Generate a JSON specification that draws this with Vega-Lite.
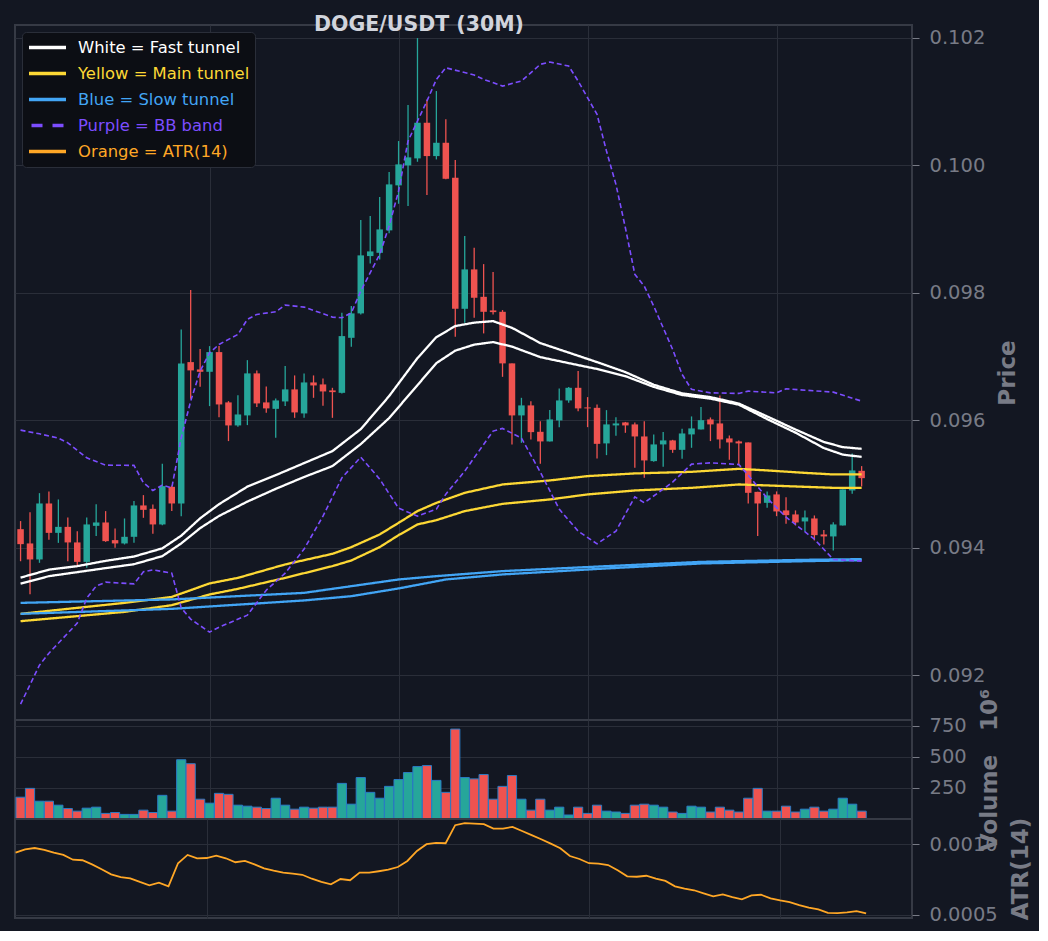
{
  "$schema": "https://vega.github.io/schema/vega-lite/v6.json",
  "background": "#131722",
  "padding": {"left": 14, "top": 14, "right": 5, "bottom": 5},
  "title": {
    "text": "DOGE/USDT (30M)",
    "anchor": "start",
    "frame": "group",
    "dx": 299,
    "offset": -11,
    "font": "DejaVu Sans",
    "fontSize": 20.5,
    "fontWeight": "bold",
    "color": "#d1d4dc"
  },
  "datasets": {
    "candles": [
      {"i": 0, "o": 0.094293, "h": 0.09442, "l": 0.09379, "c": 0.094058, "vol": 175, "atr": 0.000941},
      {"i": 1, "o": 0.094069, "h": 0.09456, "l": 0.093274, "c": 0.093818, "vol": 246, "atr": 0.000965},
      {"i": 2, "o": 0.093818, "h": 0.094858, "l": 0.093765, "c": 0.094696, "vol": 143, "atr": 0.000974},
      {"i": 3, "o": 0.094696, "h": 0.094885, "l": 0.094125, "c": 0.094235, "vol": 143, "atr": 0.00096},
      {"i": 4, "o": 0.094235, "h": 0.094759, "l": 0.094078, "c": 0.094329, "vol": 111, "atr": 0.000941},
      {"i": 5, "o": 0.094329, "h": 0.094477, "l": 0.093791, "c": 0.094085, "vol": 84, "atr": 0.000925},
      {"i": 6, "o": 0.094085, "h": 0.094262, "l": 0.093713, "c": 0.09378, "vol": 63, "atr": 0.000891},
      {"i": 7, "o": 0.09378, "h": 0.094477, "l": 0.093686, "c": 0.094367, "vol": 87, "atr": 0.000887},
      {"i": 8, "o": 0.094345, "h": 0.094685, "l": 0.094184, "c": 0.094398, "vol": 95, "atr": 0.000858},
      {"i": 9, "o": 0.094398, "h": 0.094576, "l": 0.094094, "c": 0.094105, "vol": 45, "atr": 0.000823},
      {"i": 10, "o": 0.094121, "h": 0.094304, "l": 0.094, "c": 0.094069, "vol": 52, "atr": 0.000787},
      {"i": 11, "o": 0.094069, "h": 0.094461, "l": 0.094053, "c": 0.094173, "vol": 37, "atr": 0.000768},
      {"i": 12, "o": 0.094173, "h": 0.094733, "l": 0.094078, "c": 0.094665, "vol": 37, "atr": 0.000759},
      {"i": 13, "o": 0.094665, "h": 0.094827, "l": 0.094471, "c": 0.094596, "vol": 71, "atr": 0.000733},
      {"i": 14, "o": 0.094612, "h": 0.094681, "l": 0.09422, "c": 0.094367, "vol": 52, "atr": 0.000709},
      {"i": 15, "o": 0.094367, "h": 0.095318, "l": 0.094356, "c": 0.094968, "vol": 190, "atr": 0.000728},
      {"i": 16, "o": 0.094957, "h": 0.094973, "l": 0.094576, "c": 0.094696, "vol": 63, "atr": 0.000702},
      {"i": 17, "o": 0.094696, "h": 0.097426, "l": 0.094497, "c": 0.096893, "vol": 476, "atr": 0.000866},
      {"i": 18, "o": 0.096913, "h": 0.098042, "l": 0.096337, "c": 0.096783, "vol": 444, "atr": 0.000925},
      {"i": 19, "o": 0.096798, "h": 0.097117, "l": 0.096525, "c": 0.096761, "vol": 159, "atr": 0.000901},
      {"i": 20, "o": 0.096761, "h": 0.097164, "l": 0.096223, "c": 0.09707, "vol": 127, "atr": 0.000903},
      {"i": 21, "o": 0.09707, "h": 0.097164, "l": 0.09605, "c": 0.096249, "vol": 206, "atr": 0.00092},
      {"i": 22, "o": 0.096281, "h": 0.096301, "l": 0.095674, "c": 0.09592, "vol": 198, "atr": 0.000901},
      {"i": 23, "o": 0.09592, "h": 0.096395, "l": 0.095898, "c": 0.096092, "vol": 111, "atr": 0.000873},
      {"i": 24, "o": 0.096077, "h": 0.096944, "l": 0.095925, "c": 0.096736, "vol": 103, "atr": 0.000882},
      {"i": 25, "o": 0.096736, "h": 0.096783, "l": 0.096207, "c": 0.096265, "vol": 95, "atr": 0.000858},
      {"i": 26, "o": 0.096281, "h": 0.096532, "l": 0.096118, "c": 0.096187, "vol": 84, "atr": 0.00083},
      {"i": 27, "o": 0.09618, "h": 0.096344, "l": 0.095725, "c": 0.096312, "vol": 167, "atr": 0.000813},
      {"i": 28, "o": 0.096296, "h": 0.09685, "l": 0.096223, "c": 0.096485, "vol": 111, "atr": 0.000799},
      {"i": 29, "o": 0.096485, "h": 0.096704, "l": 0.096039, "c": 0.096124, "vol": 79, "atr": 0.000792},
      {"i": 30, "o": 0.096108, "h": 0.096736, "l": 0.096039, "c": 0.096594, "vol": 95, "atr": 0.000784},
      {"i": 31, "o": 0.096594, "h": 0.096704, "l": 0.096353, "c": 0.096547, "vol": 87, "atr": 0.000756},
      {"i": 32, "o": 0.096563, "h": 0.096657, "l": 0.096227, "c": 0.096453, "vol": 95, "atr": 0.000733},
      {"i": 33, "o": 0.096469, "h": 0.09651, "l": 0.096039, "c": 0.096442, "vol": 95, "atr": 0.000716},
      {"i": 34, "o": 0.096431, "h": 0.097686, "l": 0.09642, "c": 0.097321, "vol": 286, "atr": 0.000754},
      {"i": 35, "o": 0.097294, "h": 0.097791, "l": 0.097153, "c": 0.097677, "vol": 119, "atr": 0.000745},
      {"i": 36, "o": 0.097677, "h": 0.09914, "l": 0.097661, "c": 0.098587, "vol": 333, "atr": 0.000799},
      {"i": 37, "o": 0.098576, "h": 0.099203, "l": 0.098461, "c": 0.098649, "vol": 214, "atr": 0.000799},
      {"i": 38, "o": 0.098627, "h": 0.099501, "l": 0.098524, "c": 0.098994, "vol": 167, "atr": 0.000809},
      {"i": 39, "o": 0.098979, "h": 0.099893, "l": 0.098932, "c": 0.0997, "vol": 262, "atr": 0.00082},
      {"i": 40, "o": 0.099685, "h": 0.10038, "l": 0.099396, "c": 0.100014, "vol": 317, "atr": 0.000839},
      {"i": 41, "o": 0.099998, "h": 0.100944, "l": 0.09936, "c": 0.100124, "vol": 373, "atr": 0.000882},
      {"i": 42, "o": 0.100108, "h": 0.101995, "l": 0.100055, "c": 0.100667, "vol": 421, "atr": 0.000953},
      {"i": 43, "o": 0.100667, "h": 0.101033, "l": 0.099532, "c": 0.100144, "vol": 429, "atr": 0.001001},
      {"i": 44, "o": 0.100144, "h": 0.101164, "l": 0.100092, "c": 0.100353, "vol": 310, "atr": 0.00101},
      {"i": 45, "o": 0.100353, "h": 0.10072, "l": 0.099779, "c": 0.099788, "vol": 214, "atr": 0.001008},
      {"i": 46, "o": 0.099804, "h": 0.100082, "l": 0.09731, "c": 0.097749, "vol": 722, "atr": 0.001136},
      {"i": 47, "o": 0.097749, "h": 0.098889, "l": 0.097529, "c": 0.098367, "vol": 333, "atr": 0.00115},
      {"i": 48, "o": 0.098367, "h": 0.098706, "l": 0.097608, "c": 0.097922, "vol": 322, "atr": 0.001147},
      {"i": 49, "o": 0.097937, "h": 0.09845, "l": 0.097363, "c": 0.097702, "vol": 357, "atr": 0.001143},
      {"i": 50, "o": 0.097724, "h": 0.098325, "l": 0.097661, "c": 0.097697, "vol": 159, "atr": 0.001112},
      {"i": 51, "o": 0.097702, "h": 0.097729, "l": 0.096682, "c": 0.096893, "vol": 262, "atr": 0.001112},
      {"i": 52, "o": 0.096893, "h": 0.096893, "l": 0.095622, "c": 0.096077, "vol": 349, "atr": 0.001124},
      {"i": 53, "o": 0.096077, "h": 0.096353, "l": 0.095647, "c": 0.096234, "vol": 159, "atr": 0.001095},
      {"i": 54, "o": 0.096234, "h": 0.096301, "l": 0.0957, "c": 0.095815, "vol": 71, "atr": 0.001065},
      {"i": 55, "o": 0.09582, "h": 0.095987, "l": 0.095318, "c": 0.095669, "vol": 159, "atr": 0.001036},
      {"i": 56, "o": 0.095669, "h": 0.09616, "l": 0.095669, "c": 0.096014, "vol": 71, "atr": 0.001005},
      {"i": 57, "o": 0.095998, "h": 0.0965, "l": 0.095893, "c": 0.096312, "vol": 95, "atr": 0.000972},
      {"i": 58, "o": 0.096312, "h": 0.096521, "l": 0.096274, "c": 0.09651, "vol": 32, "atr": 0.000917},
      {"i": 59, "o": 0.09651, "h": 0.096772, "l": 0.096144, "c": 0.096187, "vol": 95, "atr": 0.000896},
      {"i": 60, "o": 0.096202, "h": 0.096364, "l": 0.095893, "c": 0.096187, "vol": 45, "atr": 0.000866},
      {"i": 61, "o": 0.096196, "h": 0.096249, "l": 0.095402, "c": 0.095631, "vol": 111, "atr": 0.000863},
      {"i": 62, "o": 0.095638, "h": 0.09616, "l": 0.095454, "c": 0.095936, "vol": 63, "atr": 0.000853},
      {"i": 63, "o": 0.09592, "h": 0.09605, "l": 0.095757, "c": 0.095951, "vol": 56, "atr": 0.000816},
      {"i": 64, "o": 0.095967, "h": 0.095975, "l": 0.095804, "c": 0.09592, "vol": 45, "atr": 0.000773},
      {"i": 65, "o": 0.095936, "h": 0.095967, "l": 0.095255, "c": 0.095747, "vol": 111, "atr": 0.00077},
      {"i": 66, "o": 0.095747, "h": 0.095987, "l": 0.095098, "c": 0.095371, "vol": 119, "atr": 0.000777},
      {"i": 67, "o": 0.09536, "h": 0.095779, "l": 0.095349, "c": 0.095622, "vol": 111, "atr": 0.000756},
      {"i": 68, "o": 0.095622, "h": 0.095815, "l": 0.095271, "c": 0.095685, "vol": 95, "atr": 0.00074},
      {"i": 69, "o": 0.095685, "h": 0.095694, "l": 0.09549, "c": 0.095537, "vol": 56, "atr": 0.000702},
      {"i": 70, "o": 0.095537, "h": 0.095867, "l": 0.095396, "c": 0.095794, "vol": 45, "atr": 0.000685},
      {"i": 71, "o": 0.095779, "h": 0.096061, "l": 0.095569, "c": 0.095873, "vol": 103, "atr": 0.000674},
      {"i": 72, "o": 0.095857, "h": 0.096207, "l": 0.095857, "c": 0.096003, "vol": 95, "atr": 0.000652},
      {"i": 73, "o": 0.096014, "h": 0.096045, "l": 0.095674, "c": 0.095936, "vol": 56, "atr": 0.000631},
      {"i": 74, "o": 0.095951, "h": 0.096391, "l": 0.095559, "c": 0.0957, "vol": 95, "atr": 0.000645},
      {"i": 75, "o": 0.095716, "h": 0.095763, "l": 0.09538, "c": 0.095653, "vol": 71, "atr": 0.000626},
      {"i": 76, "o": 0.095669, "h": 0.095685, "l": 0.095297, "c": 0.095638, "vol": 56, "atr": 0.00061},
      {"i": 77, "o": 0.095653, "h": 0.095653, "l": 0.094696, "c": 0.094863, "vol": 167, "atr": 0.000638},
      {"i": 78, "o": 0.094878, "h": 0.094878, "l": 0.094184, "c": 0.094696, "vol": 246, "atr": 0.000642},
      {"i": 79, "o": 0.094706, "h": 0.094885, "l": 0.094627, "c": 0.094822, "vol": 63, "atr": 0.000617},
      {"i": 80, "o": 0.094838, "h": 0.094885, "l": 0.094497, "c": 0.094571, "vol": 63, "atr": 0.000602},
      {"i": 81, "o": 0.094587, "h": 0.094795, "l": 0.094376, "c": 0.094513, "vol": 103, "atr": 0.00059},
      {"i": 82, "o": 0.094524, "h": 0.094587, "l": 0.094351, "c": 0.094398, "vol": 56, "atr": 0.000569},
      {"i": 83, "o": 0.094414, "h": 0.094587, "l": 0.094262, "c": 0.094477, "vol": 79, "atr": 0.00055},
      {"i": 84, "o": 0.094461, "h": 0.094508, "l": 0.094116, "c": 0.094199, "vol": 95, "atr": 0.000538},
      {"i": 85, "o": 0.09421, "h": 0.094278, "l": 0.094053, "c": 0.094179, "vol": 63, "atr": 0.000514},
      {"i": 86, "o": 0.094179, "h": 0.094403, "l": 0.093959, "c": 0.094367, "vol": 79, "atr": 0.000512},
      {"i": 87, "o": 0.094351, "h": 0.094916, "l": 0.094351, "c": 0.094916, "vol": 167, "atr": 0.000517},
      {"i": 88, "o": 0.0949, "h": 0.095481, "l": 0.094847, "c": 0.095214, "vol": 119, "atr": 0.000526},
      {"i": 89, "o": 0.095208, "h": 0.095282, "l": 0.094963, "c": 0.095093, "vol": 63, "atr": 0.00051}
    ],
    "bands": [
      {"s": "fast", "e": "u", "i": 0, "v": 0.093533}, {"s": "fast", "e": "u", "i": 3, "v": 0.093658},
      {"s": "fast", "e": "u", "i": 6, "v": 0.093713}, {"s": "fast", "e": "u", "i": 9, "v": 0.093796},
      {"s": "fast", "e": "u", "i": 12, "v": 0.093864}, {"s": "fast", "e": "u", "i": 15, "v": 0.093992},
      {"s": "fast", "e": "u", "i": 17, "v": 0.09419}, {"s": "fast", "e": "u", "i": 19, "v": 0.094463},
      {"s": "fast", "e": "u", "i": 21, "v": 0.094685}, {"s": "fast", "e": "u", "i": 24, "v": 0.09496},
      {"s": "fast", "e": "u", "i": 27, "v": 0.09514}, {"s": "fast", "e": "u", "i": 30, "v": 0.095329},
      {"s": "fast", "e": "u", "i": 33, "v": 0.095517}, {"s": "fast", "e": "u", "i": 36, "v": 0.095862},
      {"s": "fast", "e": "u", "i": 39, "v": 0.09638}, {"s": "fast", "e": "u", "i": 42, "v": 0.096976},
      {"s": "fast", "e": "u", "i": 44, "v": 0.097305}, {"s": "fast", "e": "u", "i": 46, "v": 0.097478},
      {"s": "fast", "e": "u", "i": 48, "v": 0.097532}, {"s": "fast", "e": "u", "i": 50, "v": 0.097556},
      {"s": "fast", "e": "u", "i": 52, "v": 0.097451}, {"s": "fast", "e": "u", "i": 55, "v": 0.097211},
      {"s": "fast", "e": "u", "i": 58, "v": 0.097062}, {"s": "fast", "e": "u", "i": 61, "v": 0.096913},
      {"s": "fast", "e": "u", "i": 64, "v": 0.096756}, {"s": "fast", "e": "u", "i": 67, "v": 0.096558},
      {"s": "fast", "e": "u", "i": 70, "v": 0.096422}, {"s": "fast", "e": "u", "i": 73, "v": 0.096364},
      {"s": "fast", "e": "u", "i": 76, "v": 0.096263}, {"s": "fast", "e": "u", "i": 79, "v": 0.096061},
      {"s": "fast", "e": "u", "i": 82, "v": 0.095856}, {"s": "fast", "e": "u", "i": 85, "v": 0.09566},
      {"s": "fast", "e": "u", "i": 87, "v": 0.09558}, {"s": "fast", "e": "u", "i": 89, "v": 0.095553},
      {"s": "fast", "e": "l", "i": 0, "v": 0.093438}, {"s": "fast", "e": "l", "i": 3, "v": 0.093556},
      {"s": "fast", "e": "l", "i": 6, "v": 0.093619}, {"s": "fast", "e": "l", "i": 9, "v": 0.093682},
      {"s": "fast", "e": "l", "i": 12, "v": 0.093743}, {"s": "fast", "e": "l", "i": 15, "v": 0.09387},
      {"s": "fast", "e": "l", "i": 17, "v": 0.094069}, {"s": "fast", "e": "l", "i": 19, "v": 0.094309},
      {"s": "fast", "e": "l", "i": 21, "v": 0.0945}, {"s": "fast", "e": "l", "i": 24, "v": 0.094725},
      {"s": "fast", "e": "l", "i": 27, "v": 0.094925}, {"s": "fast", "e": "l", "i": 30, "v": 0.095111},
      {"s": "fast", "e": "l", "i": 33, "v": 0.095282}, {"s": "fast", "e": "l", "i": 36, "v": 0.095627},
      {"s": "fast", "e": "l", "i": 39, "v": 0.096035}, {"s": "fast", "e": "l", "i": 42, "v": 0.096552},
      {"s": "fast", "e": "l", "i": 44, "v": 0.096897}, {"s": "fast", "e": "l", "i": 46, "v": 0.097093},
      {"s": "fast", "e": "l", "i": 48, "v": 0.097187}, {"s": "fast", "e": "l", "i": 50, "v": 0.097227},
      {"s": "fast", "e": "l", "i": 52, "v": 0.097156}, {"s": "fast", "e": "l", "i": 55, "v": 0.096991},
      {"s": "fast", "e": "l", "i": 58, "v": 0.096897}, {"s": "fast", "e": "l", "i": 61, "v": 0.096805},
      {"s": "fast", "e": "l", "i": 64, "v": 0.096693}, {"s": "fast", "e": "l", "i": 67, "v": 0.096524},
      {"s": "fast", "e": "l", "i": 70, "v": 0.096397}, {"s": "fast", "e": "l", "i": 73, "v": 0.09634},
      {"s": "fast", "e": "l", "i": 76, "v": 0.096246}, {"s": "fast", "e": "l", "i": 79, "v": 0.096019},
      {"s": "fast", "e": "l", "i": 82, "v": 0.095807}, {"s": "fast", "e": "l", "i": 85, "v": 0.095565},
      {"s": "fast", "e": "l", "i": 87, "v": 0.095462}, {"s": "fast", "e": "l", "i": 89, "v": 0.095427},
      {"s": "main", "e": "u", "i": 0, "v": 0.092965}, {"s": "main", "e": "u", "i": 6, "v": 0.093059},
      {"s": "main", "e": "u", "i": 11, "v": 0.093137}, {"s": "main", "e": "u", "i": 16, "v": 0.093231},
      {"s": "main", "e": "u", "i": 20, "v": 0.093442}, {"s": "main", "e": "u", "i": 23, "v": 0.093529},
      {"s": "main", "e": "u", "i": 28, "v": 0.09374}, {"s": "main", "e": "u", "i": 33, "v": 0.093906},
      {"s": "main", "e": "u", "i": 35, "v": 0.094011}, {"s": "main", "e": "u", "i": 38, "v": 0.09421},
      {"s": "main", "e": "u", "i": 40, "v": 0.094392}, {"s": "main", "e": "u", "i": 42, "v": 0.094576},
      {"s": "main", "e": "u", "i": 44, "v": 0.094706}, {"s": "main", "e": "u", "i": 47, "v": 0.094863},
      {"s": "main", "e": "u", "i": 51, "v": 0.094994}, {"s": "main", "e": "u", "i": 56, "v": 0.095057},
      {"s": "main", "e": "u", "i": 60, "v": 0.095125}, {"s": "main", "e": "u", "i": 65, "v": 0.095167},
      {"s": "main", "e": "u", "i": 71, "v": 0.095192}, {"s": "main", "e": "u", "i": 76, "v": 0.095239},
      {"s": "main", "e": "u", "i": 79, "v": 0.095214}, {"s": "main", "e": "u", "i": 83, "v": 0.095176},
      {"s": "main", "e": "u", "i": 86, "v": 0.095151}, {"s": "main", "e": "u", "i": 89, "v": 0.095151},
      {"s": "main", "e": "l", "i": 0, "v": 0.09285}, {"s": "main", "e": "l", "i": 6, "v": 0.092929},
      {"s": "main", "e": "l", "i": 11, "v": 0.092996}, {"s": "main", "e": "l", "i": 16, "v": 0.093101},
      {"s": "main", "e": "l", "i": 20, "v": 0.093269}, {"s": "main", "e": "l", "i": 23, "v": 0.093357},
      {"s": "main", "e": "l", "i": 28, "v": 0.093529}, {"s": "main", "e": "l", "i": 33, "v": 0.093713},
      {"s": "main", "e": "l", "i": 35, "v": 0.093802}, {"s": "main", "e": "l", "i": 38, "v": 0.094011},
      {"s": "main", "e": "l", "i": 40, "v": 0.094199}, {"s": "main", "e": "l", "i": 42, "v": 0.094367},
      {"s": "main", "e": "l", "i": 44, "v": 0.094434}, {"s": "main", "e": "l", "i": 47, "v": 0.094576},
      {"s": "main", "e": "l", "i": 51, "v": 0.09469}, {"s": "main", "e": "l", "i": 56, "v": 0.094759},
      {"s": "main", "e": "l", "i": 60, "v": 0.094838}, {"s": "main", "e": "l", "i": 65, "v": 0.0949},
      {"s": "main", "e": "l", "i": 71, "v": 0.094941}, {"s": "main", "e": "l", "i": 76, "v": 0.094994},
      {"s": "main", "e": "l", "i": 79, "v": 0.094979}, {"s": "main", "e": "l", "i": 83, "v": 0.094957},
      {"s": "main", "e": "l", "i": 86, "v": 0.094941}, {"s": "main", "e": "l", "i": 89, "v": 0.094941},
      {"s": "slow", "e": "u", "i": 0, "v": 0.093137}, {"s": "slow", "e": "u", "i": 16, "v": 0.093191},
      {"s": "slow", "e": "u", "i": 30, "v": 0.093294}, {"s": "slow", "e": "u", "i": 35, "v": 0.093399},
      {"s": "slow", "e": "u", "i": 40, "v": 0.093504}, {"s": "slow", "e": "u", "i": 44, "v": 0.093556},
      {"s": "slow", "e": "u", "i": 51, "v": 0.093635}, {"s": "slow", "e": "u", "i": 62, "v": 0.093713},
      {"s": "slow", "e": "u", "i": 72, "v": 0.09378}, {"s": "slow", "e": "u", "i": 83, "v": 0.093812},
      {"s": "slow", "e": "u", "i": 89, "v": 0.093823},
      {"s": "slow", "e": "l", "i": 0, "v": 0.092965}, {"s": "slow", "e": "l", "i": 16, "v": 0.093043},
      {"s": "slow", "e": "l", "i": 30, "v": 0.093175}, {"s": "slow", "e": "l", "i": 35, "v": 0.093242},
      {"s": "slow", "e": "l", "i": 40, "v": 0.093363}, {"s": "slow", "e": "l", "i": 45, "v": 0.093504},
      {"s": "slow", "e": "l", "i": 51, "v": 0.093583}, {"s": "slow", "e": "l", "i": 62, "v": 0.093677},
      {"s": "slow", "e": "l", "i": 72, "v": 0.093755}, {"s": "slow", "e": "l", "i": 83, "v": 0.093791},
      {"s": "slow", "e": "l", "i": 89, "v": 0.093807},
      {"s": "bb", "e": "u", "i": 0, "v": 0.095846}, {"s": "bb", "e": "u", "i": 2, "v": 0.095788},
      {"s": "bb", "e": "u", "i": 4, "v": 0.095721}, {"s": "bb", "e": "u", "i": 5, "v": 0.095647},
      {"s": "bb", "e": "u", "i": 7, "v": 0.095412}, {"s": "bb", "e": "u", "i": 9, "v": 0.095297},
      {"s": "bb", "e": "u", "i": 12, "v": 0.095293}, {"s": "bb", "e": "u", "i": 13, "v": 0.09502},
      {"s": "bb", "e": "u", "i": 14, "v": 0.0949}, {"s": "bb", "e": "u", "i": 15, "v": 0.094984},
      {"s": "bb", "e": "u", "i": 16, "v": 0.094941}, {"s": "bb", "e": "u", "i": 17, "v": 0.095725},
      {"s": "bb", "e": "u", "i": 18, "v": 0.096301}, {"s": "bb", "e": "u", "i": 19, "v": 0.096772},
      {"s": "bb", "e": "u", "i": 20, "v": 0.097059}, {"s": "bb", "e": "u", "i": 21, "v": 0.09719},
      {"s": "bb", "e": "u", "i": 23, "v": 0.097347}, {"s": "bb", "e": "u", "i": 24, "v": 0.097583},
      {"s": "bb", "e": "u", "i": 25, "v": 0.097661}, {"s": "bb", "e": "u", "i": 27, "v": 0.097702},
      {"s": "bb", "e": "u", "i": 28, "v": 0.097807}, {"s": "bb", "e": "u", "i": 30, "v": 0.097776},
      {"s": "bb", "e": "u", "i": 31, "v": 0.097724}, {"s": "bb", "e": "u", "i": 33, "v": 0.097619},
      {"s": "bb", "e": "u", "i": 34, "v": 0.097608}, {"s": "bb", "e": "u", "i": 35, "v": 0.097686},
      {"s": "bb", "e": "u", "i": 36, "v": 0.098027}, {"s": "bb", "e": "u", "i": 38, "v": 0.098602},
      {"s": "bb", "e": "u", "i": 39, "v": 0.099046}, {"s": "bb", "e": "u", "i": 40, "v": 0.099595},
      {"s": "bb", "e": "u", "i": 41, "v": 0.10038}, {"s": "bb", "e": "u", "i": 43, "v": 0.101007},
      {"s": "bb", "e": "u", "i": 44, "v": 0.101347}, {"s": "bb", "e": "u", "i": 45, "v": 0.101529},
      {"s": "bb", "e": "u", "i": 48, "v": 0.101415}, {"s": "bb", "e": "u", "i": 49, "v": 0.101347},
      {"s": "bb", "e": "u", "i": 51, "v": 0.101242}, {"s": "bb", "e": "u", "i": 53, "v": 0.101321},
      {"s": "bb", "e": "u", "i": 55, "v": 0.101583}, {"s": "bb", "e": "u", "i": 56, "v": 0.101619},
      {"s": "bb", "e": "u", "i": 58, "v": 0.101556}, {"s": "bb", "e": "u", "i": 59, "v": 0.101321},
      {"s": "bb", "e": "u", "i": 61, "v": 0.100798}, {"s": "bb", "e": "u", "i": 62, "v": 0.100223},
      {"s": "bb", "e": "u", "i": 63, "v": 0.0997}, {"s": "bb", "e": "u", "i": 64, "v": 0.09902},
      {"s": "bb", "e": "u", "i": 65, "v": 0.098289}, {"s": "bb", "e": "u", "i": 66, "v": 0.098105},
      {"s": "bb", "e": "u", "i": 67, "v": 0.097791}, {"s": "bb", "e": "u", "i": 69, "v": 0.097112},
      {"s": "bb", "e": "u", "i": 70, "v": 0.09672}, {"s": "bb", "e": "u", "i": 71, "v": 0.096485},
      {"s": "bb", "e": "u", "i": 73, "v": 0.096431}, {"s": "bb", "e": "u", "i": 76, "v": 0.096422},
      {"s": "bb", "e": "u", "i": 77, "v": 0.096458}, {"s": "bb", "e": "u", "i": 80, "v": 0.096431},
      {"s": "bb", "e": "u", "i": 81, "v": 0.096494}, {"s": "bb", "e": "u", "i": 86, "v": 0.096442},
      {"s": "bb", "e": "u", "i": 89, "v": 0.096301},
      {"s": "bb", "e": "l", "i": 0, "v": 0.091548}, {"s": "bb", "e": "l", "i": 2, "v": 0.09216},
      {"s": "bb", "e": "l", "i": 3, "v": 0.092348}, {"s": "bb", "e": "l", "i": 6, "v": 0.092819},
      {"s": "bb", "e": "l", "i": 7, "v": 0.093211}, {"s": "bb", "e": "l", "i": 8, "v": 0.093399},
      {"s": "bb", "e": "l", "i": 9, "v": 0.093462}, {"s": "bb", "e": "l", "i": 12, "v": 0.093435},
      {"s": "bb", "e": "l", "i": 13, "v": 0.093624}, {"s": "bb", "e": "l", "i": 14, "v": 0.093655},
      {"s": "bb", "e": "l", "i": 16, "v": 0.093603}, {"s": "bb", "e": "l", "i": 17, "v": 0.093059},
      {"s": "bb", "e": "l", "i": 18, "v": 0.092882}, {"s": "bb", "e": "l", "i": 20, "v": 0.092678},
      {"s": "bb", "e": "l", "i": 21, "v": 0.092756}, {"s": "bb", "e": "l", "i": 24, "v": 0.092944},
      {"s": "bb", "e": "l", "i": 26, "v": 0.093336}, {"s": "bb", "e": "l", "i": 28, "v": 0.093603},
      {"s": "bb", "e": "l", "i": 30, "v": 0.09398}, {"s": "bb", "e": "l", "i": 32, "v": 0.094497},
      {"s": "bb", "e": "l", "i": 34, "v": 0.095098}, {"s": "bb", "e": "l", "i": 36, "v": 0.095423},
      {"s": "bb", "e": "l", "i": 38, "v": 0.095078}, {"s": "bb", "e": "l", "i": 40, "v": 0.094623},
      {"s": "bb", "e": "l", "i": 42, "v": 0.094497}, {"s": "bb", "e": "l", "i": 44, "v": 0.094607},
      {"s": "bb", "e": "l", "i": 45, "v": 0.094842}, {"s": "bb", "e": "l", "i": 47, "v": 0.095203},
      {"s": "bb", "e": "l", "i": 49, "v": 0.095622}, {"s": "bb", "e": "l", "i": 50, "v": 0.095831},
      {"s": "bb", "e": "l", "i": 51, "v": 0.095873}, {"s": "bb", "e": "l", "i": 53, "v": 0.095721},
      {"s": "bb", "e": "l", "i": 55, "v": 0.095187}, {"s": "bb", "e": "l", "i": 57, "v": 0.094607},
      {"s": "bb", "e": "l", "i": 59, "v": 0.094262}, {"s": "bb", "e": "l", "i": 61, "v": 0.094063},
      {"s": "bb", "e": "l", "i": 63, "v": 0.094262}, {"s": "bb", "e": "l", "i": 65, "v": 0.0948},
      {"s": "bb", "e": "l", "i": 66, "v": 0.094706}, {"s": "bb", "e": "l", "i": 69, "v": 0.095031},
      {"s": "bb", "e": "l", "i": 71, "v": 0.095313}, {"s": "bb", "e": "l", "i": 73, "v": 0.095333},
      {"s": "bb", "e": "l", "i": 76, "v": 0.095308}, {"s": "bb", "e": "l", "i": 77, "v": 0.09514},
      {"s": "bb", "e": "l", "i": 79, "v": 0.09478}, {"s": "bb", "e": "l", "i": 81, "v": 0.094482},
      {"s": "bb", "e": "l", "i": 84, "v": 0.094136}, {"s": "bb", "e": "l", "i": 86, "v": 0.093818},
      {"s": "bb", "e": "l", "i": 89, "v": 0.093791}
    ]
  },
  "spacing": 0,
  "bounds": "flush",
  "resolve": {
    "scale": {"color": "independent", "strokeDash": "independent"},
    "legend": {"color": "independent", "strokeDash": "independent"}
  },
  "vconcat": [
    {
      "width": 897,
      "height": 695,
      "layer": [
        {
          "data": {"name": "candles"},
          "mark": {"type": "rule", "clip": true, "strokeWidth": 1.3},
          "encoding": {
            "x": {"field": "i", "type": "quantitative", "scale": {"domain": [-0.06, 93.8], "nice": false, "zero": false},
                  "axis": {"values": [20, 40, 60, 80], "grid": true, "labels": false, "ticks": false, "domain": false, "title": null}},
            "y": {"field": "l", "type": "quantitative", "scale": {"domain": [0.0913, 0.1022], "nice": false, "zero": false},
                  "axis": {"orient": "right", "values": [0.092, 0.094, 0.096, 0.098, 0.1, 0.102], "format": ".3f", "title": "Price", "grid": true}},
            "y2": {"field": "h"},
            "color": {"condition": {"test": "datum.c >= datum.o", "value": "#26a69a"}, "value": "#ef5350"}
          }
        },
        {
          "data": {"name": "candles"},
          "mark": {"type": "bar", "clip": true, "width": 6.5},
          "encoding": {
            "x": {"field": "i", "type": "quantitative"},
            "y": {"field": "o", "type": "quantitative"},
            "y2": {"field": "c"},
            "color": {"condition": {"test": "datum.c >= datum.o", "value": "#26a69a"}, "value": "#ef5350"}
          }
        },
        {
          "data": {"name": "bands"},
          "transform": [{"filter": "datum.s != 'bb'"}],
          "mark": {"type": "line", "clip": true, "strokeWidth": 2.3},
          "encoding": {
            "x": {"field": "i", "type": "quantitative"},
            "y": {"field": "v", "type": "quantitative"},
            "detail": {"field": "e"},
            "color": {
              "field": "s", "type": "nominal",
              "scale": {"domain": ["fast", "main", "slow", "bb", "atr"], "range": ["#ffffff", "#fdd835", "#42a5f5", "#7c4dff", "#ffa726"]},
              "legend": {
                "orient": "top-left", "offset": 7, "title": null,
                "fillColor": "#0c0e14", "strokeColor": "#2a2e39", "cornerRadius": 4, "padding": 5,
                "labelFont": "DejaVu Sans", "labelFontSize": 16.4, "labelOffset": 10, "labelLimit": 400,
                "labelExpr": "{'fast': 'White = Fast tunnel', 'main': 'Yellow = Main tunnel', 'slow': 'Blue = Slow tunnel', 'bb': 'Purple = BB band', 'atr': 'Orange = ATR(14)'}[datum.value]",
                "labelColor": {"expr": "{'fast': '#ffffff', 'main': '#fdd835', 'slow': '#42a5f5', 'bb': '#7c4dff', 'atr': '#ffa726'}[datum.value]"},
                "symbolType": "stroke", "symbolSize": 1369, "symbolStrokeWidth": 3.5, "symbolDashOffset": -2.5,
                "clipHeight": 21, "rowPadding": 5
              }
            },
            "strokeDash": {
              "field": "s", "type": "nominal",
              "scale": {"domain": ["fast", "main", "slow", "bb", "atr"], "range": [[1, 0], [1, 0], [1, 0], [11, 10], [1, 0]]}
            }
          }
        },
        {
          "data": {"name": "bands"},
          "transform": [{"filter": "datum.s == 'bb'"}],
          "mark": {"type": "line", "clip": true, "strokeWidth": 1.6, "strokeDash": [5, 3]},
          "encoding": {
            "x": {"field": "i", "type": "quantitative"},
            "y": {"field": "v", "type": "quantitative"},
            "detail": {"field": "e"},
            "color": {"field": "s", "type": "nominal"}
          }
        }
      ]
    },
    {
      "width": 897,
      "height": 99,
      "data": {"name": "candles"},
      "mark": {"type": "bar", "clip": true, "width": 9.2, "stroke": "#2a7bc4", "strokeWidth": 1},
      "encoding": {
        "x": {"field": "i", "type": "quantitative", "scale": {"domain": [-0.06, 93.8], "nice": false, "zero": false},
              "axis": {"values": [20, 40, 60, 80], "grid": true, "labels": false, "ticks": false, "domain": false, "title": null}},
        "y": {"field": "vol", "type": "quantitative", "scale": {"domain": [0, 795], "nice": false},
              "axis": {"orient": "right", "values": [250, 500, 750], "title": "Volume\u00a0\u00a0\u00a010⁶", "grid": true}},
        "color": {"condition": {"test": "datum.c >= datum.o", "value": "#26a69a"}, "value": "#ef5350"}
      }
    },
    {
      "width": 897,
      "height": 99,
      "data": {"name": "candles"},
      "mark": {"type": "line", "clip": true, "color": "#ffa726", "strokeWidth": 1.8},
      "encoding": {
        "x": {"field": "i", "type": "quantitative", "scale": {"domain": [-0.06, 93.8], "nice": false, "zero": false},
              "axis": {"values": [20, 40, 60, 80], "grid": true, "labels": false, "ticks": false, "domain": false, "title": null}},
        "y": {"field": "atr", "type": "quantitative", "scale": {"domain": [0.000477, 0.00118], "nice": false, "zero": false},
              "axis": {"orient": "right", "values": [0.0005, 0.001], "format": ".4f", "title": "ATR(14)", "grid": true}}
      }
    }
  ],
  "config": {
    "font": "DejaVu Sans",
    "view": {"stroke": "#363a45", "strokeWidth": 2},
    "axis": {
      "labelFont": "DejaVu Sans", "labelFontSize": 19.5, "labelColor": "#787b86",
      "titleFont": "DejaVu Sans", "titleFontSize": 23, "titleFontWeight": "bold", "titleColor": "#787b86",
      "gridColor": "#2a2e39", "gridWidth": 1, "tickColor": "#787b86", "tickSize": 7,
      "labelPadding": 10, "titlePadding": 12, "domain": false
    },
    "axisRight": {"titleAngle": 270, "titleBaseline": "top"}
  }
}
